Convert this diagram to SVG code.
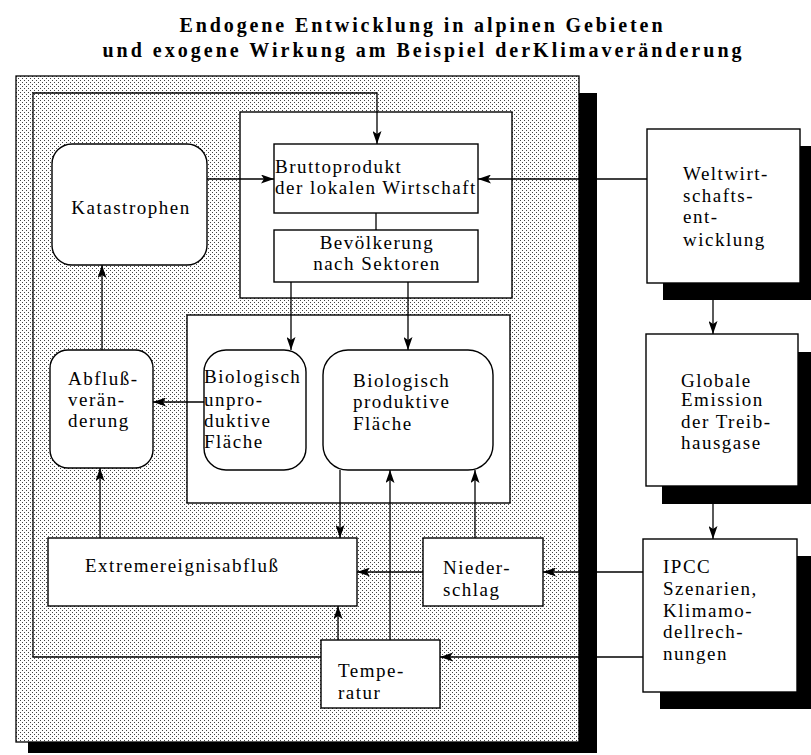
<svg xmlns="http://www.w3.org/2000/svg" width="811" height="755" viewBox="0 0 811 755">
<style>
.t{font-family:"Liberation Serif","Times New Roman",serif;font-size:19px;letter-spacing:1.5px;fill:#000}
.c{text-anchor:middle}
.title{font-family:"Liberation Serif","Times New Roman",serif;font-size:20px;font-weight:bold;text-anchor:middle;fill:#000}
.box{fill:#fff;stroke:#000;stroke-width:1.4}
.sh{fill:#000}
.ln{fill:none;stroke:#000;stroke-width:1.3}
.ar{fill:none;stroke:#000;stroke-width:1.3;marker-end:url(#ah)}
</style>
<defs>
<pattern id="dots" width="4" height="4" patternUnits="userSpaceOnUse">
<rect width="4" height="4" fill="#fff"/>
<rect x="0" y="0" width="1" height="1" fill="#444"/>
<rect x="2" y="2" width="1" height="1" fill="#444"/>
</pattern>
<marker id="ah" viewBox="0 0 13 9" refX="13" refY="4.5" markerWidth="13" markerHeight="9" markerUnits="userSpaceOnUse" orient="auto">
<path d="M0,0 L13,4.5 L0,9 L3,4.5 z" fill="#000"/>
</marker>
</defs>
<rect width="811" height="755" fill="#fff"/>
<g id="title">
<text class="title" x="421" y="32" textLength="483" lengthAdjust="spacing">Endogene Entwicklung in alpinen Gebieten</text>
<text class="title" x="422" y="57" textLength="639" lengthAdjust="spacing">und exogene Wirkung am Beispiel derKlimaveränderung</text>
</g>
<g id="frame">
<rect class="sh" x="28" y="93" width="569" height="660"/>
<rect x="16" y="76" width="563" height="666" fill="url(#dots)" stroke="#000" stroke-width="1.3"/>
</g>
<g id="container-wirtschaft">
<rect class="box" x="240" y="112" width="272" height="186"/>
</g>
<g id="container-flaeche">
<rect class="box" x="187" y="315" width="323" height="188"/>
</g>
<g id="connectors">
<polyline class="ar" points="321,657 33,657 33,93 377,93 377,144"/>
<line class="ar" x1="207" y1="179" x2="274" y2="179"/>
<line class="ar" x1="647" y1="179" x2="478" y2="179"/>
<line class="ln" x1="376" y1="213" x2="376" y2="230"/>
<line class="ar" x1="291" y1="282" x2="291" y2="350"/>
<line class="ar" x1="408" y1="282" x2="408" y2="350"/>
<line class="ar" x1="204" y1="402" x2="153" y2="402"/>
<line class="ar" x1="102" y1="350" x2="102" y2="265"/>
<line class="ar" x1="100" y1="538" x2="100" y2="468"/>
<line class="ar" x1="340" y1="470" x2="340" y2="538"/>
<line class="ar" x1="423" y1="572" x2="357" y2="572"/>
<line class="ar" x1="643" y1="572" x2="543" y2="572"/>
<line class="ar" x1="475" y1="538" x2="475" y2="470"/>
<line class="ar" x1="338" y1="640" x2="338" y2="606"/>
<line class="ar" x1="390" y1="640" x2="390" y2="470"/>
<line class="ar" x1="643" y1="657" x2="440" y2="657"/>
<line class="ar" x1="713" y1="283" x2="713" y2="334"/>
<line class="ar" x1="713" y1="486" x2="713" y2="539"/>
</g>
<g id="katastrophen">
<rect class="box" x="52" y="144" width="155" height="121" rx="20"/>
<text class="t c" x="131" y="214">Katastrophen</text>
</g>
<g id="bruttoprodukt">
<rect class="box" x="274" y="144" width="204" height="69"/>
<text class="t" x="275" y="173">Bruttoprodukt</text>
<text class="t" x="275" y="194">der lokalen Wirtschaft</text>
</g>
<g id="bevoelkerung">
<rect class="box" x="274" y="230" width="204" height="52"/>
<text class="t c" x="377" y="249">Bevölkerung</text>
<text class="t c" x="377" y="270">nach Sektoren</text>
</g>
<g id="weltwirtschaft">
<rect class="sh" x="663" y="146" width="153" height="154"/>
<rect class="box" x="647" y="129" width="153" height="154"/>
<text class="t" x="683" y="180">Weltwirt-</text>
<text class="t" x="683" y="202">schafts-</text>
<text class="t" x="683" y="223">ent-</text>
<text class="t" x="683" y="246">wicklung</text>
</g>
<g id="abfluss">
<rect class="box" x="50" y="350" width="103" height="118" rx="18"/>
<text class="t" x="68" y="385">Abfluß-</text>
<text class="t" x="68" y="406">verän-</text>
<text class="t" x="68" y="427">derung</text>
</g>
<g id="unproduktiv">
<rect class="box" x="204" y="350" width="102" height="120" rx="22"/>
<text class="t" x="204" y="383">Biologisch</text>
<text class="t" x="204" y="406">unpro-</text>
<text class="t" x="204" y="427">duktive</text>
<text class="t" x="204" y="448">Fläche</text>
</g>
<g id="produktiv">
<rect class="box" x="323" y="350" width="170" height="120" rx="25"/>
<text class="t" x="353" y="387">Biologisch</text>
<text class="t" x="353" y="408">produktive</text>
<text class="t" x="353" y="430">Fläche</text>
</g>
<g id="globale-emission">
<rect class="sh" x="662" y="352" width="152" height="152"/>
<rect class="box" x="646" y="334" width="152" height="152"/>
<text class="t" x="681" y="387">Globale</text>
<text class="t" x="681" y="406">Emission</text>
<text class="t" x="681" y="428">der Treib-</text>
<text class="t" x="681" y="449">hausgase</text>
</g>
<g id="extremereignis">
<rect class="box" x="48" y="538" width="309" height="68"/>
<text class="t" x="85" y="572">Extremereignisabfluß</text>
</g>
<g id="niederschlag">
<rect class="box" x="423" y="538" width="120" height="68"/>
<text class="t" x="443" y="574">Nieder-</text>
<text class="t" x="443" y="596">schlag</text>
</g>
<g id="temperatur">
<rect class="box" x="321" y="640" width="119" height="68"/>
<text class="t" x="338" y="677">Tempe-</text>
<text class="t" x="338" y="699">ratur</text>
</g>
<g id="ipcc">
<rect class="sh" x="660" y="556" width="154" height="153"/>
<rect class="box" x="643" y="539" width="154" height="153"/>
<text class="t" x="663" y="573">IPCC</text>
<text class="t" x="663" y="595">Szenarien,</text>
<text class="t" x="663" y="617">Klimamo-</text>
<text class="t" x="663" y="638">dellrech-</text>
<text class="t" x="663" y="660">nungen</text>
</g>
</svg>
